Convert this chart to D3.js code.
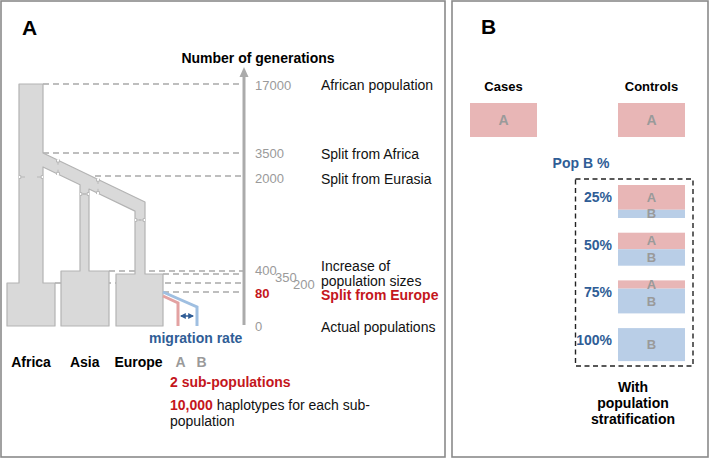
<!DOCTYPE html>
<html><head><meta charset="utf-8">
<script src="https://cdn.jsdelivr.net/npm/d3@7"></script>
<style>
html,body{margin:0;padding:0;background:#fff;}
svg text{font-family:"Liberation Sans",Arial,Helvetica,sans-serif;}
</style></head>
<body><svg id="c" width="710" height="459"></svg>
<script>
// ---------- data ----------
const generations = [17000, 3500, 2000, 400, 350, 200, 80, 0];
const tickLabels = ["17000", "3500", "2000", "400", "350", "200", "80", "0"];
const eventLabels = ["African population", "Split from Africa", "Split from Eurasia", "Increase of|population sizes", "", "", "Split from Europe", "Actual populations"];
const populations = ["Africa", "Asia", "Europe"];
const subPops = ["A", "B"];
const groups = ["Cases", "Controls"];
const popBPct = [25, 50, 75, 100];
const pctLabels = ["25%", "50%", "75%", "100%"];

// ---------- colors ----------
const RED = "#c4161c", BLUE = "#2f5d96", GRAYTXT = "#9a9a9a";
const PINK = "#e8b6b6", LBLUE = "#b9cee7";
const SHAPE_FILL = "#d9d9d9", SHAPE_STROKE = "#b3b3b3";

const svg = d3.select("#c");

// panel borders
svg.append("rect").attr("x", 1).attr("y", 1).attr("width", 444).attr("height", 456)
  .attr("fill", "none").attr("stroke", "#8a8a8a").attr("stroke-width", 1.6);
svg.append("rect").attr("x", 452).attr("y", 1).attr("width", 256).attr("height", 456)
  .attr("fill", "none").attr("stroke", "#8a8a8a").attr("stroke-width", 1.6);

svg.append("text").attr("x", 22).attr("y", 35).attr("font-size", 21).attr("font-weight", "bold").text("A");
svg.append("text").attr("x", 481).attr("y", 34).attr("font-size", 21).attr("font-weight", "bold").text("B");

// ---------- Panel A ----------
// piecewise generation scale (broken axis)
const y = d3.scaleLinear().domain([0, 80, 200, 350, 400, 2000, 3500, 17000])
  .range([326, 292, 283, 274, 271, 176, 153, 84]);
const axisX = 244;

// dashed reference lines (start x per event)
const lineStart = {17000: 43, 3500: 43, 2000: 95, 400: 109, 350: 163, 200: 55, 80: 163};
const dashG = svg.append("g");
generations.filter(g => g > 0).forEach(g => {
  dashG.append("line").attr("x1", lineStart[g]).attr("x2", axisX).attr("y1", y(g)).attr("y2", y(g))
    .attr("stroke", "#a9a9a9").attr("stroke-width", 1.3).attr("stroke-dasharray", "6,4");
});

// tree shape (times from generation scale)
const yAfr = y(17000), ySplit = y(3500), yAsiaB = y(400), yEurB = y(350), yAfrB = y(200), y0 = y(0);
const slope = 0.48;
const bt = ySplit + 14; // bottom edge of branch at Africa column
const treePts = [
  [19, yAfr], [43, yAfr], [43, ySplit], [145, ySplit + slope * 102], [145, yEurB], [163, yEurB], [163, y0],
  [116, y0], [116, yEurB], [135, yEurB], [135, bt + slope * 92], [89, bt + slope * 46], [89, yAsiaB],
  [109, yAsiaB], [109, y0], [61, y0], [61, yAsiaB], [80, yAsiaB], [80, bt + slope * 37], [43, bt],
  [43, yAfrB], [55, yAfrB], [55, y0], [7, y0], [7, yAfrB], [19, yAfrB]
];
svg.append("path").attr("d", d3.line()(treePts) + "Z")
  .attr("fill", SHAPE_FILL).attr("stroke", SHAPE_STROKE).attr("stroke-width", 1.2).attr("stroke-linejoin", "round");

// break notches (subtle cuts on the edges)
function vNotch(xl, xr, yy) {
  [[xl, 1], [xr, -1]].forEach(([xx, d]) => {
    svg.append("path").attr("d", `M${xx},${yy - 1.5}h${d * 1.8}v3h${-d * 1.8}`)
      .attr("fill", "#fff").attr("stroke", SHAPE_STROKE).attr("stroke-width", 0.9);
    svg.append("line").attr("x1", xx + d * 1.8).attr("x2", xx + d * 6).attr("y1", yy).attr("y2", yy)
      .attr("stroke", SHAPE_STROKE).attr("stroke-width", 0.9);
  });
}
function dNotch(xx) {
  const yt = ySplit + slope * (xx - 43), yb = bt + slope * (xx - 43);
  [[yt, 1], [yb, -1]].forEach(([yy, d]) => {
    svg.append("path").attr("d", `M${xx - 1.5},${yy - d * 0.7}v${d * 2.5}h3v${-d * 2.5}`)
      .attr("fill", "#fff").attr("stroke", SHAPE_STROKE).attr("stroke-width", 0.9);
    svg.append("line").attr("x1", xx).attr("x2", xx).attr("y1", yy + d * 1.8).attr("y2", yy + d * 4.5)
      .attr("stroke", SHAPE_STROKE).attr("stroke-width", 0.9);
  });
}
vNotch(19, 43, 177);
vNotch(80, 89, 194);
vNotch(135, 145, 220);
dNotch(58);
dNotch(98);

// migration lines
svg.append("path").attr("d", d3.line()([[163, 296], [178, 303], [178, y0]]))
  .attr("fill", "none").attr("stroke", "#e3a2a2").attr("stroke-width", 3);
svg.append("path").attr("d", d3.line()([[163, 292], [197, 307], [197, y0]]))
  .attr("fill", "none").attr("stroke", "#9fbfe1").attr("stroke-width", 3);
const defs = svg.append("defs");
defs.append("marker").attr("id", "ah").attr("viewBox", "0 0 10 10").attr("refX", 8).attr("refY", 5)
  .attr("markerWidth", 4).attr("markerHeight", 4).attr("orient", "auto-start-reverse")
  .append("path").attr("d", "M0,0L10,5L0,10Z").attr("fill", BLUE);
svg.append("line").attr("x1", 181).attr("x2", 193).attr("y1", 316).attr("y2", 316)
  .attr("stroke", BLUE).attr("stroke-width", 1.5)
  .attr("marker-start", "url(#ah)").attr("marker-end", "url(#ah)");

// axis with arrow
svg.append("line").attr("x1", axisX).attr("x2", axisX).attr("y1", y(0) - 1).attr("y2", 74)
  .attr("stroke", "#ababab").attr("stroke-width", 3);
svg.append("path").attr("d", `M${axisX},67L${axisX + 4.5},77L${axisX - 4.5},77Z`).attr("fill", "#ababab");

svg.append("text").attr("x", 258).attr("y", 63).attr("text-anchor", "middle")
  .attr("font-size", 14).attr("font-weight", "bold").text("Number of generations");

// tick labels
const tickDx = {400: 0, 350: 20, 200: 38};
const tickBase = {17000: 90, 3500: 158, 2000: 183, 400: 275, 350: 282, 200: 289, 80: 298, 0: 331};
generations.forEach((g, i) => {
  svg.append("text").attr("x", 255 + (tickDx[g] || 0)).attr("y", tickBase[g])
    .attr("font-size", 13).attr("fill", g === 80 ? RED : GRAYTXT).attr("font-weight", g === 80 ? "bold" : "normal")
    .text(tickLabels[i]);
});
// event labels
const evBase = {17000: 90, 3500: 159, 2000: 184, 400: 271, 80: 300, 0: 332};
generations.forEach((g, i) => {
  if (!eventLabels[i]) return;
  const lines = eventLabels[i].split("|");
  const t = svg.append("text").attr("x", 321).attr("y", evBase[g]).attr("font-size", 14)
    .attr("fill", g === 80 ? RED : "#111").attr("font-weight", g === 80 ? "bold" : "normal");
  lines.forEach((l, k) => t.append("tspan").attr("x", 321).attr("dy", k ? 14.5 : 0).text(l));
});

// population labels
const popX = d3.scalePoint().domain(populations).range([31, 138.5]);
svg.selectAll(".pop").data(populations).join("text")
  .attr("x", d => popX(d)).attr("y", 367).attr("text-anchor", "middle")
  .attr("font-size", 14).attr("font-weight", "bold").text(d => d);
const subX = d3.scalePoint().domain(subPops).range([180.5, 201.5]);
svg.selectAll(".sub").data(subPops).join("text")
  .attr("x", d => subX(d)).attr("y", 367).attr("text-anchor", "middle")
  .attr("font-size", 14).attr("font-weight", "bold").attr("fill", GRAYTXT).text(d => d);

svg.append("text").attr("x", 149).attr("y", 343).attr("font-size", 14).attr("font-weight", "bold")
  .attr("fill", BLUE).text("migration rate");

svg.append("text").attr("x", 170).attr("y", 387).attr("font-size", 14).attr("font-weight", "bold")
  .attr("fill", RED).text("2 sub-populations");
const t2 = svg.append("text").attr("x", 170).attr("y", 410).attr("font-size", 14);
t2.append("tspan").attr("font-weight", "bold").attr("fill", RED).text("10,000");
t2.append("tspan").attr("fill", "#111").text(" haplotypes for each sub-");
svg.append("text").attr("x", 170).attr("y", 426).attr("font-size", 14).attr("fill", "#111").text("population");

// ---------- Panel B ----------
const gx = d3.scalePoint().domain(groups).range([503.5, 651.5]);
const boxW = 67, boxH = 34;
groups.forEach(g => {
  svg.append("text").attr("x", gx(g)).attr("y", 91).attr("text-anchor", "middle")
    .attr("font-size", 13).attr("font-weight", "bold").text(g);
  svg.append("rect").attr("x", gx(g) - boxW / 2).attr("y", 103).attr("width", boxW).attr("height", boxH).attr("fill", PINK);
  svg.append("text").attr("x", gx(g)).attr("y", 125).attr("text-anchor", "middle")
    .attr("font-size", 14).attr("font-weight", "bold").attr("fill", GRAYTXT).text("A");
});

svg.append("text").attr("x", 581).attr("y", 168).attr("text-anchor", "middle")
  .attr("font-size", 14).attr("font-weight", "bold").attr("fill", BLUE).text("Pop B %");

svg.append("rect").attr("x", 575.5).attr("y", 179).attr("width", 117.5).attr("height", 187)
  .attr("fill", "none").attr("stroke", "#222").attr("stroke-width", 1.4).attr("stroke-dasharray", "5,3.5");

const row = d3.scaleBand().domain(popBPct).range([185, 361.1]).paddingInner(0.308);
const bh = d3.scaleLinear().domain([0, 100]).range([0, row.bandwidth()]);
const cx = gx("Controls");
popBPct.forEach((p, i) => {
  const top = row(p), hB = bh(p), hA = row.bandwidth() - hB;
  if (hA > 0) {
    svg.append("rect").attr("x", cx - boxW / 2).attr("y", top).attr("width", boxW).attr("height", hA).attr("fill", PINK);
  }
  svg.append("rect").attr("x", cx - boxW / 2).attr("y", top + hA).attr("width", boxW).attr("height", hB).attr("fill", LBLUE);
  if (hA > 0) {
    svg.append("text").attr("x", cx).attr("y", top + Math.max(hA / 2, 3) + 4.5).attr("text-anchor", "middle")
      .attr("font-size", 13).attr("font-weight", "bold").attr("fill", GRAYTXT).text("A");
  }
  svg.append("text").attr("x", cx).attr("y", top + hA + Math.max(hB / 2, 3) + 4.5).attr("text-anchor", "middle")
    .attr("font-size", 13).attr("font-weight", "bold").attr("fill", GRAYTXT).text("B");
  svg.append("text").attr("x", 612).attr("y", top + 17).attr("text-anchor", "end")
    .attr("font-size", 14).attr("font-weight", "bold").attr("fill", BLUE).text(pctLabels[i]);
});

const st = svg.append("text").attr("x", 633).attr("y", 392).attr("text-anchor", "middle")
  .attr("font-size", 14).attr("font-weight", "bold");
["With", "population", "stratification"].forEach((l, k) =>
  st.append("tspan").attr("x", 633).attr("dy", k ? 16 : 0).text(l));
</script></body></html>
